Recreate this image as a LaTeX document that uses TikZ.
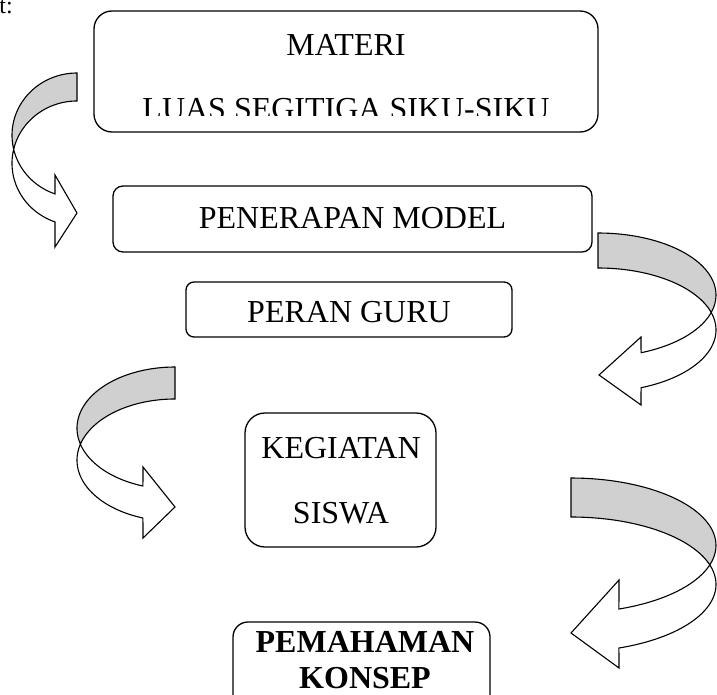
\documentclass[tikz,border=0pt]{standalone}
\usepackage{fontspec}
\setmainfont{Liberation Serif}
\definecolor{backgrey}{RGB}{208,208,208}
\begin{document}
\begin{tikzpicture}[x=1pt,y=-1pt,
  roundbox/.style={draw=black, line width=1.3pt, rounded corners=#1, inner sep=0pt},
  roundbox/.default=10pt,
  txt/.style={font=\fontsize{32}{38}\selectfont, inner sep=0pt, anchor=base},
  boldtxt/.style={font=\fontsize{32}{38}\selectfont\bfseries, inner sep=0pt, anchor=base},
  band/.style={fill=backgrey, draw=black, line width=1.1pt},
  front/.style={fill=white, draw=black, line width=1.1pt}]
\useasboundingbox (0,0) rectangle (717,695);
\clip (0,0) rectangle (717,695);

% cut-off text at top left
\node[font=\fontsize{24}{28}\selectfont, inner sep=0pt, anchor=base east] (tcut) at (13,14) {t:};

% boxes
\node[roundbox=18pt, minimum width=504pt, minimum height=121pt] (materi) at (346,71.5) {};
\node[txt] (materitxt) at (346,56) {MATERI};
\begin{scope}
  \clip (96,13) rectangle (596,116);
  \node[txt] (luas) at (346,120) {LUAS SEGITIGA SIKU-SIKU};
\end{scope}

\node[roundbox=10pt, minimum width=479pt, minimum height=66pt] (model) at (352.5,219) {};
\node[txt] (modeltxt) at (352.5,229) {PENERAPAN MODEL};

\node[roundbox=8pt, minimum width=326pt, minimum height=55pt] (guru) at (349,309.5) {};
\node[txt] (gurutxt) at (349,322) {PERAN GURU};

\node[roundbox=20pt, minimum width=191pt, minimum height=134pt] (siswa) at (340.5,480) {};
\node[txt] (siswa1) at (341,458) {KEGIATAN};
\node[txt] (siswa2) at (341,523) {SISWA};

\node[roundbox=15pt, minimum width=257pt, minimum height=90pt] (konsep) at (361.5,667) {};
\node[boldtxt] (konsep1) at (365,652) {PEMAHAMAN};
\node[boldtxt] (konsep2) at (365,688) {KONSEP};

% arrow 1 (left side, top)
\filldraw[band] plot[domain=270:167, samples=40] ({77+65*cos(\x)},{135.3+62.3*sin(\x)})
  -- plot[domain=193:270, samples=40] ({77+65*cos(\x)},{163.3+62.3*sin(\x)}) -- cycle;
\filldraw[front] plot[domain=193:109.8, samples=50] ({77+65*cos(\x)},{163.3+62.3*sin(\x)})
  -- (55,247) -- (77,213) -- (55,175)
  -- plot[domain=109.8:167, samples=40] ({77+65*cos(\x)},{135.3+62.3*sin(\x)}) -- cycle;

% arrow 2 (right side, top)
\filldraw[band] plot[domain=-90:16.4, samples=40] ({598+118*cos(\x)},{295+62*sin(\x)})
  -- plot[domain=-16.4:-90, samples=40] ({598+118*cos(\x)},{330+62*sin(\x)}) -- cycle;
\filldraw[front] plot[domain=-16.4:68.6, samples=50] ({598+118*cos(\x)},{330+62*sin(\x)})
  -- (641,405) -- (599,375) -- (641,337)
  -- plot[domain=68.6:16.4, samples=40] ({598+118*cos(\x)},{295+62*sin(\x)}) -- cycle;

% arrow 3 (left side, middle)
\filldraw[band] plot[domain=270:164.8, samples=40] ({175+98*cos(\x)},{428.2+61.2*sin(\x)})
  -- plot[domain=195.2:270, samples=40] ({175+98*cos(\x)},{460.2+61.2*sin(\x)}) -- cycle;
\filldraw[front] plot[domain=195.2:109.1, samples=50] ({175+98*cos(\x)},{460.2+61.2*sin(\x)})
  -- (143,538) -- (175,507) -- (143,467)
  -- plot[domain=109.1:164.8, samples=40] ({175+98*cos(\x)},{428.2+61.2*sin(\x)}) -- cycle;

% arrow 4 (right side, bottom)
\filldraw[band] plot[domain=-90:16.8, samples=40] ({571+145*cos(\x)},{545.4+67.4*sin(\x)})
  -- plot[domain=-16.8:-90, samples=40] ({571+145*cos(\x)},{584.4+67.4*sin(\x)}) -- cycle;
\filldraw[front] plot[domain=-16.8:70.7, samples=50] ({571+145*cos(\x)},{584.4+67.4*sin(\x)})
  -- (619,668) -- (571,633) -- (619,580)
  -- plot[domain=70.7:16.8, samples=40] ({571+145*cos(\x)},{545.4+67.4*sin(\x)}) -- cycle;
\end{tikzpicture}
\end{document}
